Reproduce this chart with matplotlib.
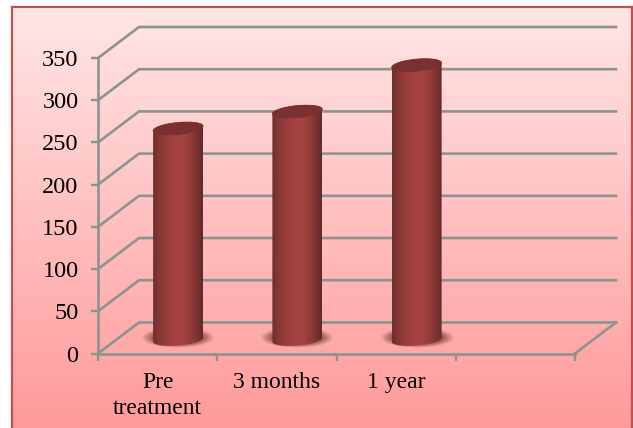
import numpy as np
import matplotlib
matplotlib.use("Agg")
import matplotlib.pyplot as plt
from matplotlib.patches import Polygon

categories = ["Pre\ntreatment", "3 months", "1 year", ""]
values = [250, 270, 325]
y_ticks = [0, 50, 100, 150, 200, 250, 300, 350]

W, H = 633, 428
GRID = "#8b9491"

plt.rcParams["font.family"] = ["Liberation Serif", "DejaVu Serif"]
fig = plt.figure(figsize=(W / 100, H / 100), dpi=100, facecolor="white")


def box(left, top, right, bottom):
    # pixel box to figure fractions
    return [left / W, 1 - bottom / H, (right - left) / W, (bottom - top) / H]


# panel background with vertical gradient
bg = fig.add_axes(box(11.5, 7.5, 631.5, 440), zorder=0)
top_col = np.array([255, 230, 230]) / 255
bot_col = np.array([255, 152, 152]) / 255
t = np.linspace(0, 1, 256)[:, None, None]
bg.imshow(top_col * (1 - t) + bot_col * t, aspect="auto", extent=(0, 1, 0, 1))
bg.set_xticks([])
bg.set_yticks([])
for s in bg.spines.values():
    s.set_color("#c0504d")
    s.set_linewidth(1.6)

# plot area: front axis starts at x=98, y=353.5, back wall goes 41px right and 31px up
px_x = 119.25
px_y = 295.0 / 350
dx = 41 / px_x
dy = 31 / px_y
ax = fig.add_axes(box(98, 27, 616, 353.5), zorder=1)
ax.patch.set_visible(False)

# gridlines running up the side wall and along the back
for v in y_ticks:
    ax.plot([0, dx, 4 + dx], [v, v + dy, v + dy], color=GRID, lw=1.9, zorder=1,
            solid_joinstyle="miter", clip_on=False)
ax.plot([4, 4 + dx], [0, dy], color=GRID, lw=1.9, zorder=1, clip_on=False)

# cylinder shading across the width
stops = [0, 0.12, 0.4, 0.6, 0.85, 1]
reds = np.array([[108, 48, 46], [135, 55, 53], [163, 66, 64],
                 [166, 68, 66], [132, 54, 52], [95, 42, 40]]) / 255
pos = np.linspace(0, 1, 128)
shade = np.stack([np.interp(pos, stops, reds[:, c]) for c in range(3)], axis=1)[None, :, :]

half_w = 25
half_h = 6
tilt = 0.09
ang = np.linspace(0, 2 * np.pi, 120)

for i, v in enumerate(values):
    cx = i + 0.5 + dx / 2
    base = dy / 2 - 1.5 / px_y
    ex = half_w * np.cos(ang)
    ey = half_h * np.sin(ang) + tilt * ex

    # soft shadow on the floor
    gx, gy = np.meshgrid(np.linspace(-1, 1, 160), np.linspace(-1, 1, 60))
    r = np.hypot(gx, gy)
    sh = np.zeros((60, 160, 4))
    sh[..., :3] = np.array([125, 62, 62]) / 255
    sh[..., 3] = 0.95 * np.clip((1 - r) / 0.4, 0, 1)
    ax.imshow(sh, aspect="auto", zorder=2,
              extent=(cx - 37 / px_x, cx + 37 / px_x, base - 9 / px_y, base + 11 / px_y))

    # body: lower half of the base ellipse plus the top ellipse outline
    lo = np.linspace(np.pi, 2 * np.pi, 60)
    up = np.linspace(0, np.pi, 60)
    bx = half_w * np.cos(lo)
    by = half_h * np.sin(lo) + tilt * bx
    tx = half_w * np.cos(up)
    ty = half_h * np.sin(up) + tilt * tx
    outline = np.column_stack([
        np.r_[cx + bx / px_x, cx + tx / px_x],
        np.r_[base + by / px_y, base + v + ty / px_y],
    ])
    im = ax.imshow(shade, aspect="auto", zorder=3,
                   extent=(cx - half_w / px_x, cx + half_w / px_x,
                           base - 10 / px_y, base + v + 10 / px_y))
    im.set_clip_path(Polygon(outline, transform=ax.transData))

    # top cap
    ax.add_patch(Polygon(np.column_stack([cx + ex / px_x, base + v + ey / px_y]),
                         closed=True, facecolor="#7a302e", edgecolor="#7a302e",
                         lw=0.5, zorder=4))

ax.set_xlim(0, 4 + dx)
ax.set_ylim(0, 350 + dy)

for name in ["top", "right"]:
    ax.spines[name].set_visible(False)
for name in ["left", "bottom"]:
    ax.spines[name].set_color(GRID)
    ax.spines[name].set_linewidth(1.9)
ax.spines["left"].set_bounds(0, 350)
ax.spines["bottom"].set_bounds(0, 4)

ax.set_yticks(y_ticks)
ax.set_xticks([0, 1, 2, 3, 4])
ax.set_xticklabels([])
ax.set_xticks([0.5, 1.5, 2.5, 3.5], minor=True)
ax.set_xticklabels(categories, minor=True, linespacing=1.32)
ax.tick_params(axis="x", which="major", length=5, width=1.7, color=GRID)
ax.tick_params(axis="x", which="minor", length=0, pad=13.5, labelsize=17, labelcolor="black")
ax.tick_params(axis="y", length=5, width=1.7, color=GRID, pad=9, labelsize=17.5)

fig.savefig("out.png", dpi=100)
